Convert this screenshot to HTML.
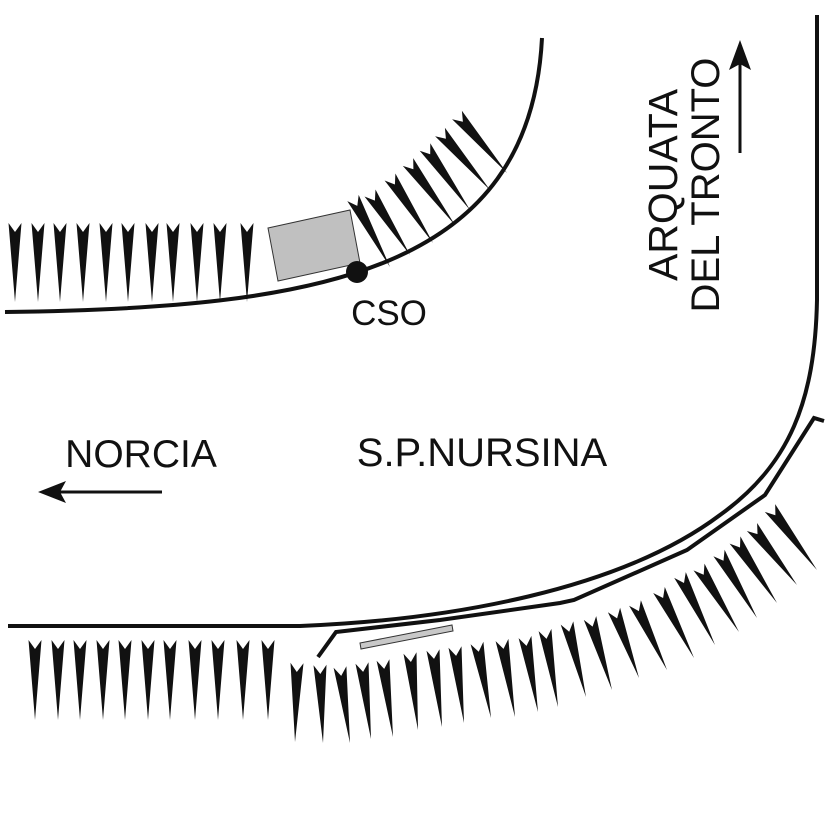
<!DOCTYPE html>
<html><head><style>html,body{margin:0;padding:0;background:#fff}svg{display:block}</style></head>
<body>
<svg id="s" width="827" height="827" viewBox="0 0 827 827" xmlns="http://www.w3.org/2000/svg">
<g fill="none" stroke="#111" stroke-width="4">
<path d="M5,312 C320,308 530,272 542,38"/>
<path d="M8,626 L300,626 C450,620 620,590 720,515 C790,465 815,400 817,300 L817,15"/>
<path d="M318,657 L336,632 L440,620 L560,603 L574,600 L687,550 L765,495 L814,418 L824,421"/>
</g>
<polygon points="268,228 350,210 360,263 278,281" fill="#c0c0c0" stroke="#333" stroke-width="1"/>
<circle cx="357" cy="272" r="11" fill="#111"/>
<polygon points="360,643 452,625 453,631 361,649" fill="#c8c8c8" stroke="#333" stroke-width="1"/>
<g font-family="Liberation Sans, sans-serif" fill="#111">
<text x="389" y="325" font-size="35" text-anchor="middle">CSO</text>
<text x="141" y="467" font-size="39" text-anchor="middle">NORCIA</text>
<text x="482" y="466" font-size="40" text-anchor="middle">S.P.NURSINA</text>
<text transform="translate(677,185) rotate(-90)" font-size="41" text-anchor="middle">ARQUATA</text>
<text transform="translate(719,185) rotate(-90)" font-size="40" text-anchor="middle">DEL TRONTO</text>
</g>
<g stroke="#111" stroke-width="3">
<line x1="162" y1="492" x2="58" y2="492"/>
<line x1="740" y1="153" x2="740" y2="60"/>
</g>
<polygon points="38,492 66,481 60,492 66,503" fill="#111"/>
<polygon points="740,40 729,70 740,64 751,70" fill="#111"/>
<g id="t" fill="#111"></g>
</svg>
<script>
var pairs=[];
[15,38,60,83,106,128,152,173,197,220,247].forEach(function(x){pairs.push([x,223,x,302]);});
[[353,198,390,267],[370,193,410,255],[390,177,433,243],[408,162,455,225],[425,147,470,210],[440,132,490,190],[457,115,507,173]].forEach(function(p){pairs.push(p);});
[35,58,80,103,125,148,170,195,218,243,268].forEach(function(x){pairs.push([x,640,x,720]);});
[[297,663,295,742],[320,665,323,743],[340,667,350,743],[362,663,371,739],[383,660,393,737],[410,653,418,730],[433,650,442,727],[455,647,464,723],[477,643,491,718],[502,640,515,717],[525,637,538,712],[545,630,558,707],[567,623,586,697],[590,618,612,690],[614,610,639,678],[635,603,667,670],[659,590,694,658],[680,575,715,645],[699,567,739,632],[719,553,757,618],[735,540,777,603],[752,527,797,585],[770,508,817,570]].forEach(function(p){pairs.push(p);});
var g=document.getElementById('t'),h='';
pairs.forEach(function(p){
 var dx=p[2]-p[0],dy=p[3]-p[1],L=Math.sqrt(dx*dx+dy*dy),ux=dx/L,uy=dy/L,nx=-uy,ny=ux,w=6.5,n=9;
 var a=[p[0]+nx*w,p[1]+ny*w],b=[p[0]+ux*n,p[1]+uy*n],c=[p[0]-nx*w,p[1]-ny*w],d=[p[2],p[3]];
 h+='<polygon points="'+[a,b,c,d].map(function(q){return q[0].toFixed(1)+','+q[1].toFixed(1)}).join(' ')+'"/>';
});
g.innerHTML=h;
</script>
</body></html>
